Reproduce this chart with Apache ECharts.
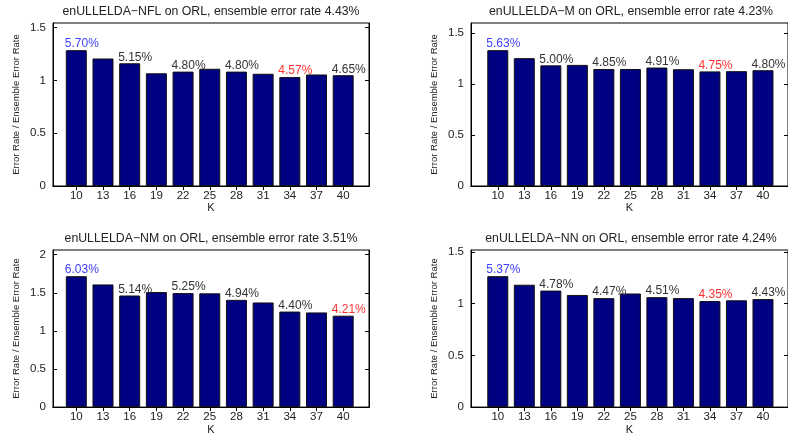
<!DOCTYPE html>
<html>
<head>
<meta charset="utf-8">
<script src="https://cdn.jsdelivr.net/npm/echarts@6/dist/echarts.min.js"></script>
<style>
  html, body { margin: 0; padding: 0; background: #fff; }
  #chart { width: 788px; height: 436px; }
</style>
</head>
<body>
<div id="chart"></div>
<script>
// Neighbourhood size K for each base learner
const kValues = [10, 13, 16, 19, 22, 25, 28, 31, 34, 37, 40];

// Individual error rates (%) per K, and the ensemble error rate (%) of each variant
const ratesNFL = [5.70, 5.35, 5.15, 4.73, 4.80, 4.92, 4.80, 4.71, 4.57, 4.68, 4.65];
const ensembleNFL = 4.43;
const ratesM = [5.63, 5.30, 5.00, 5.02, 4.85, 4.85, 4.91, 4.84, 4.75, 4.76, 4.80];
const ensembleM = 4.23;
const ratesNM = [6.03, 5.65, 5.14, 5.30, 5.25, 5.24, 4.94, 4.82, 4.40, 4.36, 4.21];
const ensembleNM = 3.51;
const ratesNN = [5.37, 5.02, 4.78, 4.60, 4.47, 4.66, 4.51, 4.47, 4.35, 4.38, 4.43];
const ensembleNN = 4.24;

// Variant names used in the subplot titles
const variantNames = ['enULLELDA\u2212NFL', 'enULLELDA\u2212M', 'enULLELDA\u2212NM', 'enULLELDA\u2212NN'];

// Tick labels on the ratio axis of each subplot
const yTicksSmall = [0, 0.5, 1, 1.5];
const yTicksLarge = [0, 0.5, 1, 1.5, 2];

// Every other bar carries its error rate as a label
const labelledIdx = [0, 2, 4, 6, 8, 10];

const FONT = 'Liberation Sans, Arial, Helvetica, sans-serif';
const TXT = '#222';

const panels = [
  { name: variantNames[0], rates: ratesNFL, ens: ensembleNFL, yTicks: yTicksSmall,
    grid: { left: 53, top: 23, width: 316, height: 163 }, xMin: 7.38, xMax: 42.9, cx: 211, ty: 12 },
  { name: variantNames[1], rates: ratesM, ens: ensembleM, yTicks: yTicksSmall,
    grid: { left: 471, top: 23, width: 319, height: 163 }, xMin: 6.97, xMax: 42.83, cx: 631, ty: 12 },
  { name: variantNames[2], rates: ratesNM, ens: ensembleNM, yTicks: yTicksLarge,
    grid: { left: 53, top: 250, width: 316, height: 163 }, xMin: 7.38, xMax: 42.9, cx: 211, ty: 239 },
  { name: variantNames[3], rates: ratesNN, ens: ensembleNN, yTicks: yTicksSmall,
    grid: { left: 471, top: 250, width: 319, height: 163 }, xMin: 6.97, xMax: 42.83, cx: 631, ty: 239 }
];

const grids = [], xAxes = [], yAxes = [], series = [], graphics = [];

panels.forEach((p, i) => {
  const ratios = p.rates.map(r => r / p.ens);
  const yMax = Math.max(...ratios) * 1.2;
  const hiIdx = p.rates.indexOf(Math.max(...p.rates));
  const loIdx = p.rates.indexOf(Math.min(...p.rates));

  grids.push(Object.assign({ show: true, borderColor: '#000', borderWidth: 1, backgroundColor: 'transparent' }, p.grid));

  const tickStyle = { show: true, inside: true, length: 4, lineStyle: { color: '#000', width: 1 } };

  // bottom K axis
  xAxes.push({
    type: 'value', gridIndex: i, position: 'bottom', min: p.xMin, max: p.xMax,
    name: 'K', nameLocation: 'middle', nameGap: 15,
    nameTextStyle: { fontFamily: FONT, fontSize: 11, color: TXT },
    axisLine: { show: true, lineStyle: { color: '#000', width: 1 } },
    axisTick: Object.assign({ customValues: kValues }, tickStyle),
    axisLabel: { customValues: kValues, margin: 4, fontFamily: FONT, fontSize: 11.5, color: TXT },
    splitLine: { show: false }
  });
  // top frame ticks
  xAxes.push({
    type: 'value', gridIndex: i, position: 'top', min: p.xMin, max: p.xMax,
    axisLine: { show: true, lineStyle: { color: '#000', width: 1 } },
    axisTick: Object.assign({ customValues: kValues }, tickStyle),
    axisLabel: { show: false },
    splitLine: { show: false }
  });
  // left ratio axis
  yAxes.push({
    type: 'value', gridIndex: i, position: 'left', min: 0, max: yMax,
    name: 'Error Rate / Ensemble Error Rate', nameLocation: 'middle', nameGap: 32,
    nameTextStyle: { fontFamily: FONT, fontSize: 9.5, color: TXT },
    axisLine: { show: true, lineStyle: { color: '#000', width: 1 } },
    axisTick: Object.assign({ customValues: p.yTicks }, tickStyle),
    axisLabel: { customValues: p.yTicks, margin: 7, fontFamily: FONT, fontSize: 11.5, color: TXT },
    splitLine: { show: false }
  });
  // right frame ticks
  yAxes.push({
    type: 'value', gridIndex: i, position: 'right', min: 0, max: yMax,
    axisLine: { show: true, lineStyle: { color: '#000', width: 1 } },
    axisTick: Object.assign({ customValues: p.yTicks }, tickStyle),
    axisLabel: { show: false },
    splitLine: { show: false }
  });

  series.push({
    type: 'bar',
    xAxisIndex: 2 * i,
    yAxisIndex: 2 * i,
    barWidth: 21,
    silent: true,
    animation: false,
    itemStyle: { color: '#000082', borderColor: '#111', borderWidth: 1 },
    data: kValues.map((k, j) => {
      const item = { value: [k, ratios[j]] };
      if (labelledIdx.includes(j)) {
        let c = '#333';
        if (j === hiIdx) c = '#4040ff';
        if (j === loIdx) c = '#ff3030';
        item.label = {
          show: true,
          position: [-1, 0],
          align: 'left',
          verticalAlign: 'bottom',
          formatter: p.rates[j].toFixed(2) + '%',
          fontFamily: FONT,
          fontSize: 12,
          color: c
        };
      }
      return item;
    })
  });

  graphics.push({
    type: 'text',
    x: p.cx,
    y: p.ty,
    style: {
      text: p.name + ' on ORL, ensemble error rate ' + p.ens.toFixed(2) + '%',
      align: 'center',
      verticalAlign: 'middle',
      fontFamily: FONT,
      fontSize: 12.3,
      fill: TXT
    }
  });
});

const chart = echarts.init(document.getElementById('chart'), null, { renderer: 'canvas' });
chart.setOption({
  animation: false,
  backgroundColor: '#fff',
  grid: grids,
  xAxis: xAxes,
  yAxis: yAxes,
  series: series,
  graphic: graphics
});
</script>
</body>
</html>
